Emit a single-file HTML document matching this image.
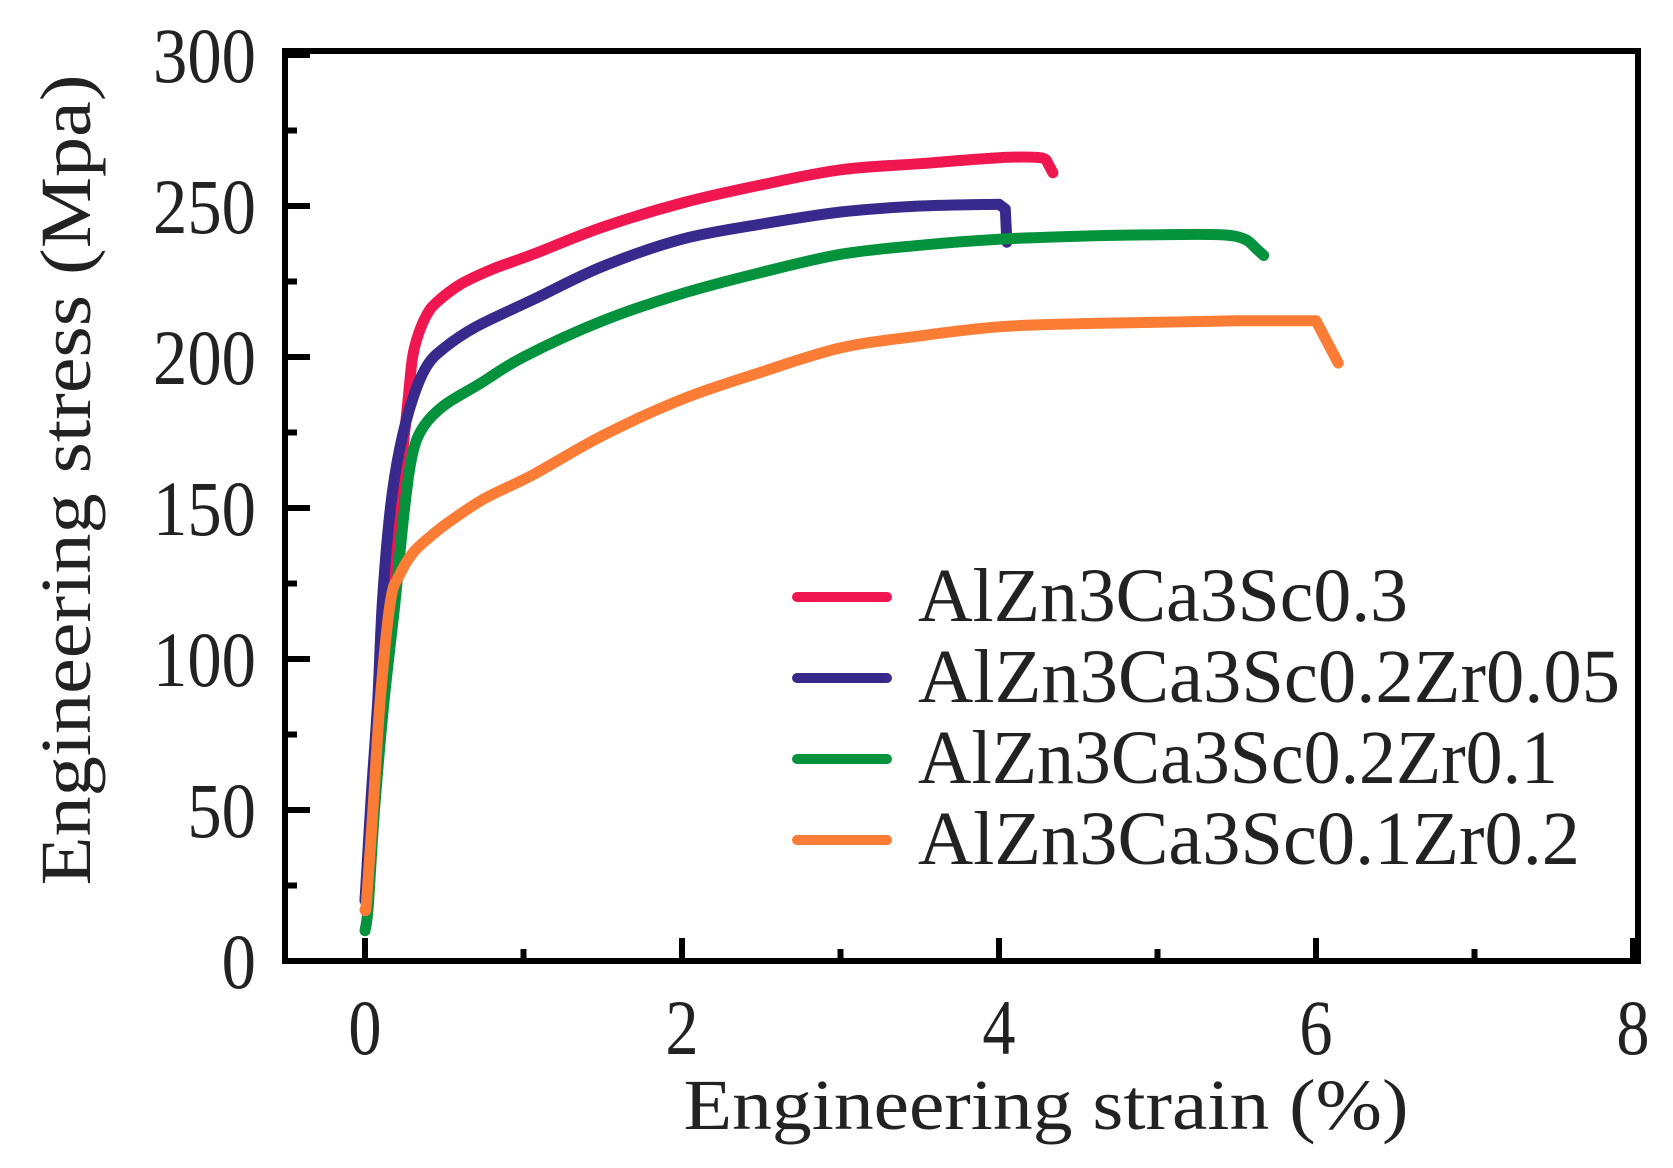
<!DOCTYPE html>
<html><head><meta charset="utf-8"><style>
html,body{margin:0;padding:0;background:#fff;}
svg{display:block;font-family:"Liberation Serif",serif;}
</style></head><body>
<svg id="chart" width="1673" height="1168" viewBox="0 0 1673 1168"></svg>
<script>
const xTicks = [0, 2, 4, 6, 8];
const xMinor = [1, 3, 5, 7];
const yTicks = [0, 50, 100, 150, 200, 250, 300];
const yMinor = [25, 75, 125, 175, 225, 275];
const seriesNames = ["AlZn3Ca3Sc0.3", "AlZn3Ca3Sc0.2Zr0.05", "AlZn3Ca3Sc0.2Zr0.1", "AlZn3Ca3Sc0.1Zr0.2"];
const seriesColors = ["#f0164f", "#372a8c", "#04933c", "#fb7c35"];
const redX = [0, 0.05, 0.1, 0.15, 0.22, 0.27, 0.3, 0.34, 0.39, 0.45, 0.6, 0.8, 1.06, 1.5, 2.0, 2.5, 3.0, 3.5, 4.0, 4.26, 4.31, 4.34];
const redY = [20, 55, 95, 130, 160, 185, 200, 208, 214, 218, 224, 229, 234, 243, 251, 257, 262, 264, 266, 266, 264, 261];
const blueX = [0, 0.04, 0.08, 0.11, 0.16, 0.22, 0.3, 0.39, 0.5, 0.7, 1.06, 1.5, 2.0, 2.5, 3.0, 3.5, 4.0, 4.04, 4.05];
const blueY = [20, 55, 86, 119, 150, 170, 186, 197, 203, 210, 219, 230, 239, 244, 248, 250, 250.6, 249, 238];
const greenX = [0, 0.02, 0.06, 0.12, 0.19, 0.25, 0.3, 0.37, 0.5, 0.72, 1.0, 1.5, 2.0, 2.5, 3.0, 3.5, 4.0, 4.5, 5.0, 5.4, 5.55, 5.62, 5.67];
const greenY = [10, 18, 50, 86, 119, 150, 168, 177, 184, 191, 200, 212, 221, 228, 234, 237, 239, 240, 240.5, 240.5, 239, 236, 233.6];
const orangeX = [0, 0.01, 0.05, 0.095, 0.16, 0.22, 0.3, 0.4, 0.52, 0.75, 1.06, 1.5, 2.0, 2.5, 3.0, 3.5, 4.0, 4.5, 5.0, 5.5, 6.0, 6.14];
const orangeY = [17, 20, 50, 86, 119, 128, 135, 140, 145, 153, 161, 174, 186, 195, 203, 207, 210, 211, 211.5, 212, 212, 198];
const linearTail = [1, 2, 1, 2];

const svg = document.getElementById('chart');
const NS = 'http://www.w3.org/2000/svg';
const L = 285, R = 1638, T = 51, B = 961;
const x = v => 365 + v * 158.5;
const y = v => 961 - v * 3.02;
function mk(tag, attrs, parent) {
  const e = document.createElementNS(NS, tag);
  for (const k in attrs) e.setAttribute(k, attrs[k]);
  (parent || svg).appendChild(e);
  return e;
}
function smooth(pts, tail) {
  const n = pts.length;
  const lin = n - 1 - tail;
  let d = 'M' + pts[0][0].toFixed(1) + ' ' + pts[0][1].toFixed(1);
  for (let i = 0; i < n - 1; i++) {
    const p1 = pts[i], p2 = pts[i + 1];
    if (i >= lin) { d += ' L' + p2[0].toFixed(1) + ' ' + p2[1].toFixed(1); continue; }
    const p0 = pts[Math.max(0, i - 1)];
    const p3 = (i + 1 >= lin) ? p2 : pts[Math.min(n - 1, i + 2)];
    const c1x = p1[0] + (p2[0] - p0[0]) / 6, c1y = p1[1] + (p2[1] - p0[1]) / 6;
    const c2x = p2[0] - (p3[0] - p1[0]) / 6, c2y = p2[1] - (p3[1] - p1[1]) / 6;
    d += ' C' + c1x.toFixed(1) + ' ' + c1y.toFixed(1) + ' ' + c2x.toFixed(1) + ' ' + c2y.toFixed(1) + ' ' + p2[0].toFixed(1) + ' ' + p2[1].toFixed(1);
  }
  return d;
}
const allX = [redX, blueX, greenX, orangeX];
const allY = [redY, blueY, greenY, orangeY];
const ids = ['series-alzn3ca3sc0.3', 'series-alzn3ca3sc0.2zr0.05', 'series-alzn3ca3sc0.2zr0.1', 'series-alzn3ca3sc0.1zr0.2'];
for (let s = 0; s < 4; s++) {
  const pts = allX[s].map((v, i) => [x(v), y(allY[s][i])]);
  const p = mk('path', {d: smooth(pts, linearTail[s]), fill: 'none', stroke: seriesColors[s], 'stroke-width': 11, 'stroke-linecap': 'round', 'stroke-linejoin': 'round'});
  
  
}
const fr = mk('rect', {x: L, y: T, width: R - L, height: B - T, fill: 'none', stroke: '#000', 'stroke-width': 6});


xTicks.forEach(v => {
  const t = mk('line', {x1: x(v), x2: x(v), y1: B, y2: B - 23, stroke: '#000', 'stroke-width': 6});
  
  
  const lb = mk('text', {x: x(v), y: 1054, 'text-anchor': 'middle', 'font-size': 78, fill: '#222', transform: 'translate(' + x(v) + ' 0) scale(0.85 1) translate(' + (-x(v)) + ' 0)'});
  lb.textContent = v;
  
  
});
xMinor.forEach(v => {
  const t = mk('line', {x1: x(v), x2: x(v), y1: B, y2: B - 12, stroke: '#000', 'stroke-width': 6});
  
  
});
yTicks.forEach(v => {
  const t = mk('line', {x1: L, x2: L + 25, y1: y(v), y2: y(v), stroke: '#000', 'stroke-width': 6});
  
  
  const lb = mk('text', {x: 256, y: y(v) + 27, 'text-anchor': 'end', 'font-size': 78, fill: '#222', transform: 'translate(256 0) scale(0.88 1) translate(-256 0)'});
  lb.textContent = v;
  
  
});
yMinor.forEach(v => {
  const t = mk('line', {x1: L, x2: L + 12, y1: y(v), y2: y(v), stroke: '#000', 'stroke-width': 6});
  
  
});
const xt = mk('text', {x: 1046, y: 1129, 'text-anchor': 'middle', 'font-size': 72, fill: '#222', textLength: 725, lengthAdjust: 'spacingAndGlyphs'});
xt.textContent = 'Engineering strain (%)';


const yt = mk('text', {x: 0, y: 0, 'text-anchor': 'middle', 'font-size': 72, fill: '#222', textLength: 811, lengthAdjust: 'spacingAndGlyphs', transform: 'translate(90,480) rotate(-90)'});
yt.textContent = 'Engineering stress (Mpa)';


const legY = [597, 678, 759, 840];
const legW = [490, 702, 640, 662];
for (let s = 0; s < 4; s++) {
  const g = mk('g', {});
  
  
  const ln = mk('line', {x1: 797, x2: 887, y1: legY[s], y2: legY[s], stroke: seriesColors[s], 'stroke-width': 10, 'stroke-linecap': 'round'}, g);
  
  
  const tx = mk('text', {x: 918, y: legY[s] + 24, 'font-size': 76, fill: '#222', textLength: legW[s], lengthAdjust: 'spacingAndGlyphs'}, g);
  tx.textContent = seriesNames[s];
  
  
}
</script>
</body></html>
